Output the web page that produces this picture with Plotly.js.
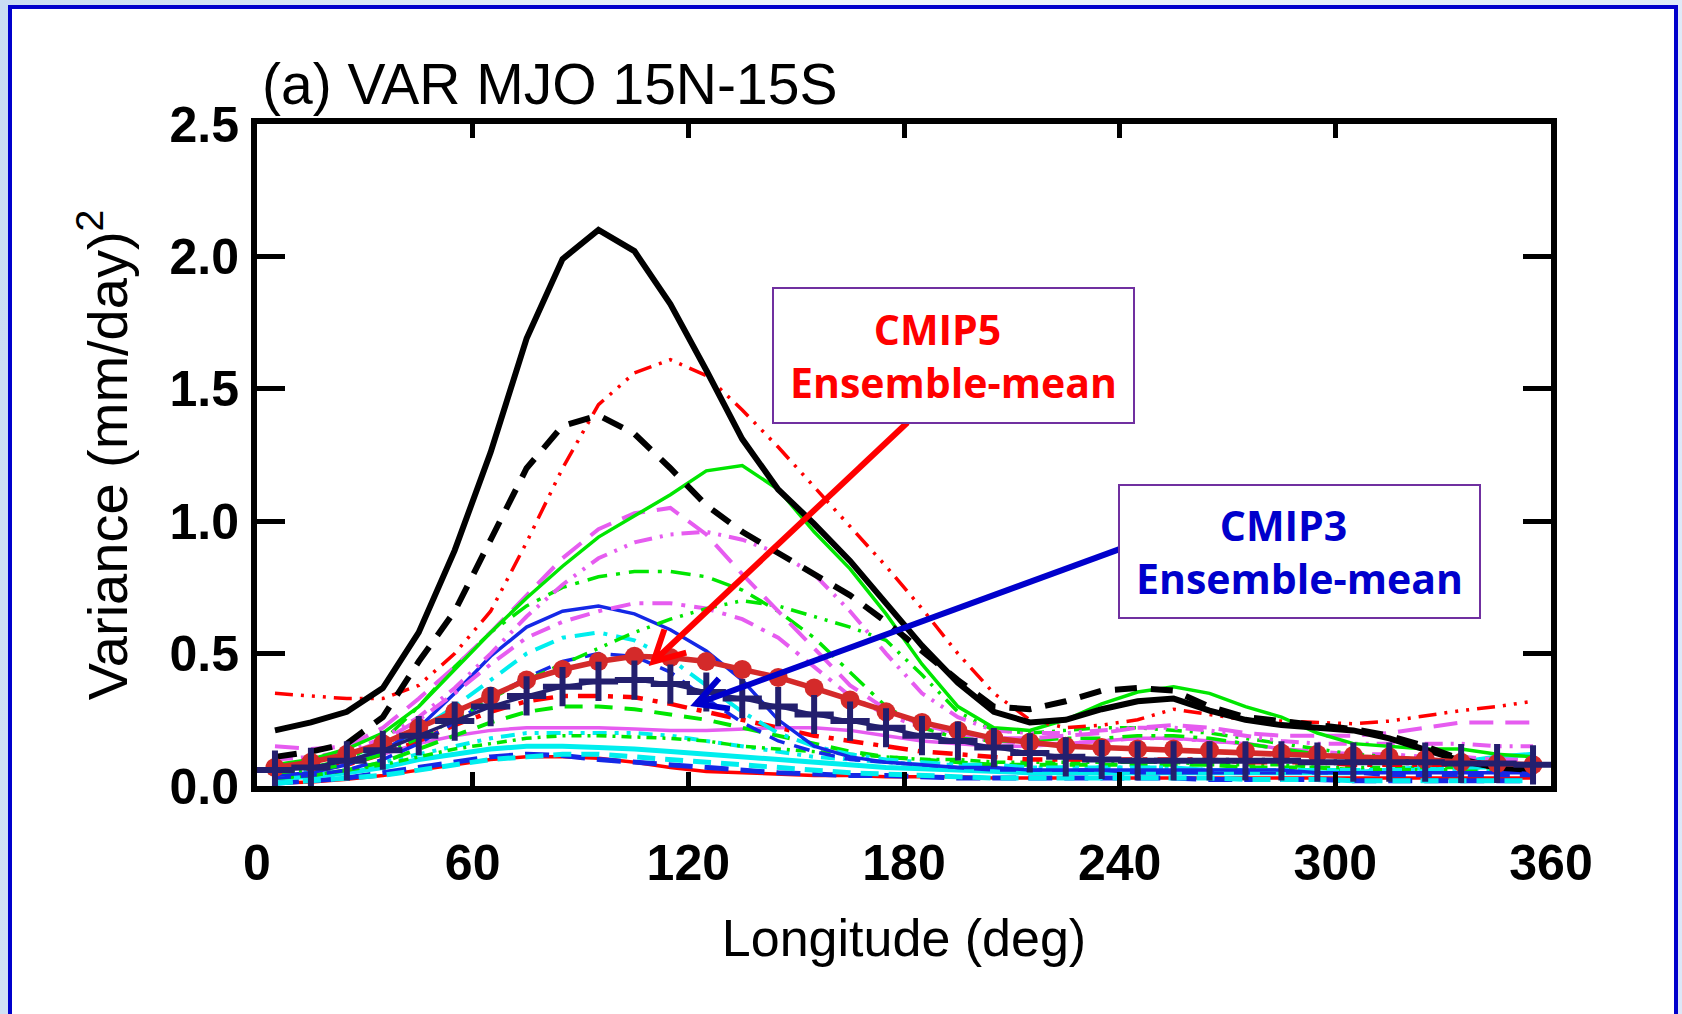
<!DOCTYPE html>
<html>
<head>
<meta charset="utf-8">
<script src="https://cdn.plot.ly/plotly-3.0.1.min.js"></script>
<style>
  html, body { margin: 0; padding: 0; width: 1682px; height: 1014px; overflow: hidden;
    background: linear-gradient(100deg, #c9dcf3 0%, #eef4fc 45%, #dbe8f8 100%); }
  #frame { position: absolute; left: 8px; top: 5px; width: 1662px; height: 1100px;
    border: 4px solid #0000cc; background: #ffffff; }
  #chart { position: absolute; left: 0; top: 0; width: 1682px; height: 1014px; }
</style>
</head>
<body>
<div id="frame"></div>
<div id="chart"></div>
<script>
// Longitude of each sample (deg)
const lon = [5, 15, 25, 35, 45, 55, 65, 75, 85, 95, 105, 115, 125, 135, 145, 155, 165, 175,
             185, 195, 205, 215, 225, 235, 245, 255, 265, 275, 285, 295, 305, 315, 325, 335, 345, 355];

// Observations
const obsSolid  = [0.21, 0.24, 0.28, 0.37, 0.58, 0.89, 1.26, 1.69, 1.99, 2.10, 2.02, 1.82, 1.57, 1.31, 1.12, 0.99, 0.85, 0.69,
                   0.53, 0.39, 0.28, 0.24, 0.25, 0.29, 0.32, 0.33, 0.285, 0.25, 0.23, 0.22, 0.21, 0.18, 0.14, 0.095, 0.07, 0.065];
const obsDashed = [0.11, 0.13, 0.16, 0.26, 0.47, 0.66, 0.93, 1.20, 1.36, 1.40, 1.33, 1.20, 1.06, 0.96, 0.88, 0.80, 0.72, 0.62,
                   0.51, 0.40, 0.30, 0.29, 0.32, 0.36, 0.37, 0.36, 0.30, 0.26, 0.245, 0.23, 0.215, 0.19, 0.15, 0.10, 0.07, 0.06];

// Individual models
const redDash3Dot = [0.35, 0.34, 0.33, 0.33, 0.38, 0.50, 0.66, 0.92, 1.20, 1.44, 1.56, 1.61, 1.55, 1.42, 1.28, 1.13, 0.98, 0.83,
                     0.67, 0.50, 0.35, 0.25, 0.22, 0.23, 0.25, 0.29, 0.27, 0.25, 0.245, 0.24, 0.235, 0.245, 0.265, 0.285, 0.30, 0.32];
const greenSolid = [0.08, 0.10, 0.14, 0.20, 0.30, 0.44, 0.58, 0.71, 0.83, 0.94, 1.02, 1.10, 1.19, 1.21, 1.12, 0.96, 0.82, 0.65,
                    0.46, 0.30, 0.22, 0.21, 0.25, 0.31, 0.355, 0.375, 0.35, 0.30, 0.26, 0.20, 0.16, 0.15, 0.14, 0.14, 0.12, 0.11];
const magLongDash = [0.15, 0.14, 0.15, 0.22, 0.33, 0.45, 0.58, 0.72, 0.86, 0.97, 1.03, 1.05, 0.95, 0.80, 0.66, 0.52, 0.38, 0.29,
                     0.23, 0.20, 0.18, 0.18, 0.19, 0.20, 0.22, 0.23, 0.22, 0.20, 0.19, 0.19, 0.19, 0.20, 0.22, 0.24, 0.24, 0.24];
const magDashDotDot = [0.10, 0.11, 0.13, 0.18, 0.26, 0.37, 0.50, 0.64, 0.76, 0.86, 0.92, 0.95, 0.96, 0.93, 0.88, 0.80, 0.66, 0.50,
                       0.35, 0.26, 0.21, 0.20, 0.20, 0.21, 0.22, 0.22, 0.21, 0.19, 0.17, 0.16, 0.16, 0.16, 0.16, 0.16, 0.15, 0.15];
const magDashDot = [0.08, 0.09, 0.12, 0.17, 0.25, 0.35, 0.46, 0.56, 0.62, 0.66, 0.69, 0.69, 0.67, 0.63, 0.56, 0.45, 0.34, 0.27,
                    0.22, 0.19, 0.17, 0.16, 0.16, 0.17, 0.18, 0.18, 0.17, 0.16, 0.14, 0.13, 0.12, 0.12, 0.11, 0.11, 0.10, 0.10];
const magSolid = [0.06, 0.07, 0.09, 0.12, 0.16, 0.19, 0.21, 0.22, 0.22, 0.22, 0.215, 0.21, 0.21, 0.215, 0.22, 0.22, 0.21, 0.19,
                  0.17, 0.16, 0.15, 0.15, 0.16, 0.17, 0.18, 0.18, 0.17, 0.16, 0.14, 0.12, 0.11, 0.10, 0.09, 0.08, 0.08, 0.07];
const greenDashDot = [0.05, 0.07, 0.10, 0.17, 0.30, 0.45, 0.58, 0.68, 0.75, 0.79, 0.81, 0.81, 0.79, 0.74, 0.66, 0.56, 0.43, 0.30,
                      0.22, 0.18, 0.17, 0.17, 0.18, 0.18, 0.19, 0.19, 0.18, 0.16, 0.14, 0.12, 0.11, 0.10, 0.09, 0.09, 0.08, 0.08];
const greenDashDotDot = [0.05, 0.06, 0.08, 0.12, 0.18, 0.25, 0.33, 0.40, 0.46, 0.52, 0.58, 0.63, 0.67, 0.70, 0.68, 0.64, 0.60, 0.55,
                         0.42, 0.28, 0.21, 0.20, 0.21, 0.22, 0.22, 0.21, 0.20, 0.18, 0.16, 0.14, 0.12, 0.11, 0.10, 0.09, 0.09, 0.08];
const greenDash = [0.03, 0.04, 0.06, 0.09, 0.14, 0.19, 0.24, 0.28, 0.30, 0.30, 0.29, 0.27, 0.25, 0.22, 0.19, 0.16, 0.13, 0.11,
                   0.10, 0.09, 0.08, 0.08, 0.08, 0.08, 0.08, 0.08, 0.08, 0.07, 0.07, 0.07, 0.06, 0.06, 0.06, 0.06, 0.06, 0.06];
const greenDotLow = [0.03, 0.04, 0.06, 0.08, 0.11, 0.14, 0.16, 0.18, 0.19, 0.19, 0.185, 0.18, 0.17, 0.15, 0.14, 0.13, 0.12, 0.11,
                     0.10, 0.10, 0.09, 0.09, 0.09, 0.09, 0.09, 0.09, 0.08, 0.08, 0.08, 0.07, 0.07, 0.07, 0.07, 0.07, 0.07, 0.07];
const blueSolid = [0.04, 0.05, 0.08, 0.13, 0.22, 0.35, 0.49, 0.60, 0.66, 0.68, 0.65, 0.59, 0.51, 0.40, 0.25, 0.15, 0.11, 0.09,
                   0.08, 0.07, 0.07, 0.06, 0.06, 0.06, 0.06, 0.06, 0.06, 0.06, 0.06, 0.05, 0.05, 0.05, 0.05, 0.05, 0.05, 0.05];
const blueDash = [0.03, 0.04, 0.06, 0.10, 0.16, 0.24, 0.33, 0.41, 0.47, 0.50, 0.49, 0.43, 0.33, 0.24, 0.17, 0.13, 0.10, 0.09,
                  0.08, 0.07, 0.06, 0.06, 0.06, 0.06, 0.05, 0.05, 0.05, 0.05, 0.05, 0.05, 0.05, 0.04, 0.04, 0.04, 0.04, 0.04];
const blueThickDash = [0.01, 0.02, 0.03, 0.05, 0.07, 0.09, 0.11, 0.12, 0.115, 0.10, 0.09, 0.08, 0.07, 0.06, 0.05, 0.045, 0.04, 0.04,
                       0.035, 0.03, 0.03, 0.03, 0.03, 0.03, 0.03, 0.03, 0.025, 0.025, 0.025, 0.025, 0.02, 0.02, 0.02, 0.02, 0.02, 0.02];
const cyanDashDot = [0.04, 0.06, 0.09, 0.14, 0.21, 0.30, 0.40, 0.50, 0.56, 0.58, 0.55, 0.48, 0.38, 0.28, 0.20, 0.15, 0.12, 0.10,
                     0.09, 0.08, 0.08, 0.07, 0.07, 0.07, 0.07, 0.07, 0.06, 0.06, 0.06, 0.06, 0.06, 0.06, 0.06, 0.07, 0.07, 0.07];
const cyanDashDotDot = [0.03, 0.04, 0.06, 0.09, 0.12, 0.15, 0.18, 0.20, 0.20, 0.20, 0.20, 0.19, 0.17, 0.15, 0.13, 0.11, 0.10, 0.09,
                        0.08, 0.08, 0.07, 0.07, 0.07, 0.07, 0.07, 0.07, 0.06, 0.06, 0.06, 0.06, 0.06, 0.06, 0.06, 0.06, 0.06, 0.06];
const cyanSolid = [0.03, 0.035, 0.05, 0.07, 0.10, 0.12, 0.14, 0.15, 0.15, 0.145, 0.14, 0.13, 0.12, 0.11, 0.10, 0.09, 0.08, 0.07,
                   0.065, 0.06, 0.055, 0.05, 0.05, 0.05, 0.05, 0.05, 0.05, 0.05, 0.05, 0.05, 0.05, 0.06, 0.07, 0.09, 0.11, 0.12];
const cyanDash = [0.01, 0.02, 0.03, 0.04, 0.06, 0.08, 0.10, 0.11, 0.12, 0.12, 0.11, 0.10, 0.09, 0.08, 0.07, 0.06, 0.05, 0.045,
                  0.04, 0.035, 0.03, 0.03, 0.03, 0.03, 0.03, 0.03, 0.03, 0.025, 0.025, 0.025, 0.02, 0.02, 0.02, 0.02, 0.02, 0.02];
const redDashDot = [0.05, 0.06, 0.08, 0.12, 0.17, 0.23, 0.28, 0.32, 0.34, 0.34, 0.335, 0.31, 0.28, 0.25, 0.22, 0.19, 0.17, 0.15,
                    0.13, 0.12, 0.11, 0.10, 0.10, 0.10, 0.10, 0.10, 0.10, 0.09, 0.09, 0.09, 0.08, 0.08, 0.08, 0.08, 0.07, 0.07];
const redSolid = [0.01, 0.015, 0.025, 0.04, 0.06, 0.08, 0.10, 0.11, 0.11, 0.105, 0.09, 0.07, 0.055, 0.05, 0.045, 0.04, 0.04, 0.035,
                  0.035, 0.035, 0.03, 0.03, 0.03, 0.03, 0.03, 0.03, 0.03, 0.03, 0.03, 0.03, 0.03, 0.03, 0.03, 0.03, 0.03, 0.03];

// Ensemble means
const cmip5Mean = [0.07, 0.09, 0.12, 0.16, 0.22, 0.28, 0.34, 0.40, 0.44, 0.47, 0.49, 0.485, 0.47, 0.44, 0.41, 0.37, 0.325, 0.28,
                   0.24, 0.21, 0.18, 0.165, 0.15, 0.145, 0.14, 0.14, 0.135, 0.13, 0.125, 0.12, 0.115, 0.11, 0.10, 0.09, 0.085, 0.08];
const cmip3Mean = [0.06, 0.07, 0.095, 0.135, 0.19, 0.245, 0.30, 0.34, 0.375, 0.395, 0.40, 0.385, 0.355, 0.33, 0.30, 0.27, 0.245, 0.22,
                   0.19, 0.17, 0.145, 0.125, 0.11, 0.10, 0.095, 0.095, 0.095, 0.095, 0.095, 0.09, 0.09, 0.09, 0.09, 0.085, 0.085, 0.08];

// Tick labels
const xTicks = [0, 60, 120, 180, 240, 300, 360];
const yTicks = [0.0, 0.5, 1.0, 1.5, 2.0, 2.5];
const yTickText = ['0.0', '0.5', '1.0', '1.5', '2.0', '2.5'];

const RED = '#ff0000', GREEN = '#00e600', MAG = '#e65cf0', CYAN = '#00eeee', BLUE = '#1428e6';

function line(y, color, width, dash) {
  return { x: lon, y: y, type: 'scatter', mode: 'lines', hoverinfo: 'skip',
           line: { color: color, width: width, dash: dash || 'solid' } };
}

const traces = [
  line(redSolid, RED, 3.5),
  line(blueThickDash, BLUE, 5, '24px,12px'),
  line(cyanDash, CYAN, 5, '18px,10px'),
  line(cyanSolid, CYAN, 5),
  line(cyanDashDotDot, CYAN, 4, '14px,8px,4px,8px,4px,8px'),
  line(greenDotLow, GREEN, 3.5, '10px,6px,3px,6px'),
  line(magSolid, MAG, 3.5),
  line(greenDash, GREEN, 4, '18px,12px'),
  line(redDashDot, RED, 4.5, '20px,10px,5px,10px'),
  line(blueDash, BLUE, 3.5, '16px,10px'),
  line(cyanDashDot, CYAN, 4, '20px,9px,4px,9px'),
  line(blueSolid, BLUE, 3.5),
  line(magDashDot, MAG, 4, '20px,9px,4px,9px'),
  line(greenDashDotDot, GREEN, 3.5, '16px,8px,3px,8px,3px,8px'),
  line(greenDashDot, GREEN, 3.5, '20px,9px,4px,9px'),
  line(magDashDotDot, MAG, 4, '18px,8px,3px,8px,3px,8px'),
  line(magLongDash, MAG, 4, '24px,12px'),
  line(greenSolid, GREEN, 3.5),
  line(redDash3Dot, RED, 3.5, '18px,8px,3px,8px,3px,8px,3px,8px'),
  line(obsDashed, '#000000', 6, '22px,14px'),
  line(obsSolid, '#000000', 6),
  { x: lon, y: cmip5Mean, type: 'scatter', mode: 'lines+markers', hoverinfo: 'skip',
    line: { color: '#d42a2a', width: 5.5 },
    marker: { symbol: 'circle', size: 19, color: '#d42a2a' } },
  { x: lon, y: cmip3Mean, type: 'scatter', mode: 'lines+markers', hoverinfo: 'skip',
    line: { color: '#231f6e', width: 3.5 },
    marker: { symbol: 'cross-thin', size: 28, color: '#231f6e', line: { color: '#231f6e', width: 6 } } }
];

// Pointer arrows: tip anchored on a curve, tail given as a pixel offset (x right, y up)
function pointer(tipX, tipY, tailDx, tailDy, color) {
  const len = Math.hypot(tailDx, tailDy), ux = tailDx / len, uy = tailDy / len;
  const arm = 34, ang = 28 * Math.PI / 180, c = Math.cos(ang), s = Math.sin(ang);
  const a1 = [arm * (ux * c - uy * s), arm * (ux * s + uy * c)];
  const a2 = [arm * (ux * c + uy * s), arm * (-ux * s + uy * c)];
  const base = { xref: 'x', yref: 'y', xsizemode: 'pixel', ysizemode: 'pixel',
                 xanchor: tipX, yanchor: tipY, layer: 'above' };
  return [
    Object.assign({ type: 'line', x0: tailDx, y0: tailDy, x1: 0, y1: 0,
                    line: { color: color, width: 6 } }, base),
    Object.assign({ type: 'path', path: `M${a1[0].toFixed(1)},${a1[1].toFixed(1)}L0,0L${a2[0].toFixed(1)},${a2[1].toFixed(1)}`,
                    line: { color: color, width: 6 } }, base)
  ];
}

const TICKFONT = { family: 'Liberation Sans, Arial, sans-serif', size: 50, color: '#000', weight: 'bold' };
const NOTE = 'Open Sans, Noto Sans, sans-serif';

const layout = {
  width: 1682, height: 1014,
  margin: { l: 257, r: 131, t: 124, b: 228 },
  paper_bgcolor: 'rgba(0,0,0,0)', plot_bgcolor: '#ffffff',
  showlegend: false,
  title: { text: '(a) VAR MJO 15N-15S', x: 262 / 1682, xanchor: 'left', xref: 'container',
           y: 1 - 84 / 1014, yanchor: 'middle', yref: 'container',
           font: { family: 'Liberation Sans, Arial, sans-serif', size: 57, color: '#000' } },
  xaxis: {
    range: [0, 360], tickvals: xTicks, ticktext: xTicks.map(String),
    showgrid: false, zeroline: false, showline: true, linecolor: '#000', linewidth: 6, mirror: 'ticks',
    ticks: 'inside', ticklen: 14, tickwidth: 5, tickcolor: '#000',
    tickfont: TICKFONT, ticklabelstandoff: 28,
    title: { text: 'Longitude (deg)', font: { family: 'Liberation Sans, Arial, sans-serif', size: 52, color: '#000' }, standoff: 32 }
  },
  yaxis: {
    range: [0, 2.5], tickvals: yTicks, ticktext: yTickText,
    showgrid: false, zeroline: false, showline: true, linecolor: '#000', linewidth: 6, mirror: 'ticks',
    ticks: 'inside', ticklen: 28, tickwidth: 5, tickcolor: '#000',
    tickfont: TICKFONT, ticklabelstandoff: 2,
    title: { text: 'Variance (mm/day)<sup>2</sup>', font: { family: 'Liberation Sans, Arial, sans-serif', size: 56, color: '#000' }, standoff: 26 }
  },
  shapes: [
    ...pointer(110.3, 0.47, 254, 239, '#ff0000'),
    ...pointer(122.2, 0.31, 424, 155, '#0000cc')
  ],
  annotations: [
    { xref: 'paper', yref: 'paper', x: 0.5383, y: 0.6503, xanchor: 'center', yanchor: 'middle',
      text: 'CMIP5&nbsp;&nbsp;&nbsp;<br>Ensemble-mean', showarrow: false, align: 'center',
      width: 359, height: 133, borderpad: 0, borderwidth: 2, bordercolor: '#7030a0', bgcolor: '#ffffff',
      font: { family: NOTE, size: 41, color: '#ff0000', weight: 'bold' } },
    { xref: 'paper', yref: 'paper', x: 0.8056, y: 0.3535, xanchor: 'center', yanchor: 'middle',
      text: 'CMIP3&nbsp;&nbsp;&nbsp;<br>Ensemble-mean', showarrow: false, align: 'center',
      width: 359, height: 131, borderpad: 0, borderwidth: 2, bordercolor: '#7030a0', bgcolor: '#ffffff',
      font: { family: NOTE, size: 41, color: '#0000cc', weight: 'bold' } }
  ]
};

Plotly.newPlot('chart', traces, layout, { staticPlot: true, displayModeBar: false });
</script>
</body>
</html>
